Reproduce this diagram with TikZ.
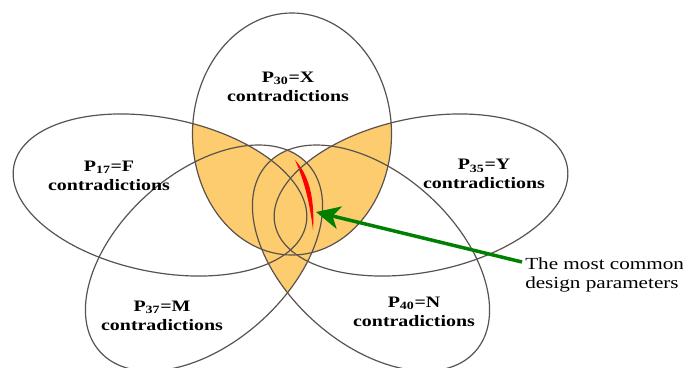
\documentclass[tikz,border=0pt]{standalone}
\usepackage{fontspec}
\setmainfont{Liberation Serif}
\usetikzlibrary{arrows.meta}
\definecolor{petal}{RGB}{252,204,110}
\definecolor{rimcol}{RGB}{90,82,78}
\definecolor{arrowgreen}{RGB}{0,128,0}
\def\ellX{(292,134) ellipse [x radius=99.5, y radius=121]}
\def\ellF{(160,195) ellipse [x radius=149, y radius=77, rotate=-11.4]}
\def\ellY{(421,195) ellipse [x radius=149, y radius=77, rotate=11.4]}
\def\ellM{(204,258) ellipse [x radius=140, y radius=85, rotate=42]}
\def\ellN{(371,258) ellipse [x radius=140, y radius=85, rotate=-42]}
\tikzset{
  rim/.style={draw=rimcol, line width=1.2},
  lab/.style={font=\fontsize{16}{19}\selectfont\bfseries, align=center, inner sep=0pt, xscale=1.25},
  note/.style={font=\fontsize{17}{18.5}\selectfont, align=left, inner sep=0pt, xscale=1.25},
  pointer/.style={draw=arrowgreen, line width=3.5, -{Stealth[length=24, width=23, inset=7, fill=arrowgreen]}}
}
\begin{document}
\begin{tikzpicture}[x=1bp, y=-1bp]
\useasboundingbox (0,0) rectangle (683,367);
\fill[white] (0,0) rectangle (683,367);
% yellow highlighted regions
\begin{scope}
  \clip \ellX;
  \fill[petal] \ellF;
  \fill[petal] \ellY;
\end{scope}
\begin{scope}
  \clip \ellM;
  \fill[petal] \ellN;
\end{scope}
% red sliver
\fill[red] (295,160) .. controls (308,174) and (315,196) .. (313,230)
  .. controls (310,205) and (305,182) .. cycle;
% ellipses
\begin{scope}
  \clip (0,0) rectangle (683,367);
  \draw[rim] \ellX;
  \draw[rim] \ellF;
  \draw[rim] \ellY;
  \draw[rim] \ellM;
  \draw[rim] \ellN;
\end{scope}
% labels
\node[lab] (lx) at (288,86.5) {P\textsubscript{30}=X\\contradictions};
\node[lab] (lf) at (109,175.5) {P\textsubscript{17}=F\\contradictions};
\node[lab] (ly) at (484,174) {P\textsubscript{35}=Y\\contradictions};
\node[lab] (lm) at (162,315.5) {P\textsubscript{37}=M\\contradictions};
\node[lab] (ln) at (414,311.5) {P\textsubscript{40}=N\\contradictions};
% callout
\node[note, anchor=west] (callout) at (525,275) {The most common\\design parameters};
\coordinate (arrowstart) at (522,262);
\coordinate (tip) at (316,212);
\draw[pointer] (arrowstart) -- (tip);
\end{tikzpicture}
\end{document}
